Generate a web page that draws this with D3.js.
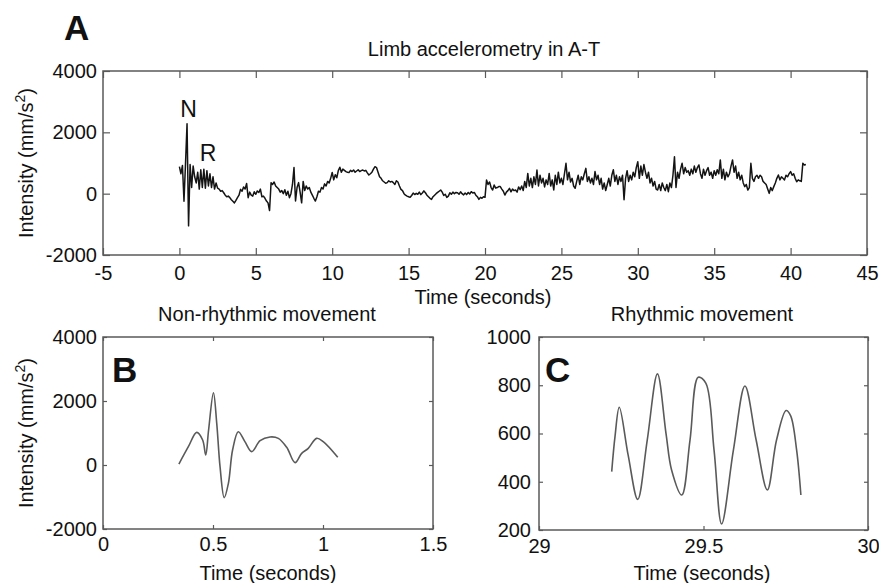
<!DOCTYPE html>
<html><head><meta charset="utf-8">
<script src="https://cdn.jsdelivr.net/npm/d3@7"></script>
<style>
body{margin:0;background:#fff}
svg{display:block;background:#fff}
text{font-family:"Liberation Sans",Arial,Helvetica,sans-serif}
</style>
</head><body>
<svg id="chart" width="879" height="583"></svg>
<script>
// ---------- DATA ----------
// Panel A: limb accelerometry trace, sampled every 0.1 s from t = 0
const aStart = 0;
const aStep = 0.1;
const aValues = [
  880, 650, 920, -250, 980, 2280, -1050, 950, 200, 900,
  550, 350, 700, 150, 780, 200, 800, 180, 750, 250,
  650, 200, 550, 150, 350, 180, 150, 80, 100, 30,
  -50, -100, -80, -130, -200, -250, -300, -220, -130, -50,
  140, 80, 220, 150, 330, -130, 50, -50, -80, 60,
  -20, 90, 40, 150, -100, -80, -150, -240, -300, -550,
  360, 300, 380, 250, 200, 150, 50, 100, 0, 130,
  -50, 80, -130, 0, 300, 850, -240, 200, 360, 50,
  -300, 400, 100, 250, 150, 200, 50, -50, -150, -240,
  -100, 80, 50, 200, 150, 320, 250, 400, 350, 500,
  690, 450, 620, 520, 750, 860, 700, 800, 760, 720,
  700, 690, 760, 720, 770, 700, 740, 780, 720, 750,
  770, 740, 760, 680, 610, 650, 700, 800, 880, 850,
  700, 555, 500, 420, 380, 340, 360, 420, 380, 400,
  360, 300, 420, 380, 250, 140, 100, 0, -50, -80,
  -100, -120, -60, 20, -30, 10, -20, 50, -30, 20,
  90, 30, -50, -100, -150, -185, -100, -50, 0, 40,
  80, 120, 50, -60, -20, -120, -80, 30, -20, 50,
  0, 40, 30, -20, 60, 0, -40, 20, -30, 40,
  -10, 65, 20, 40, -50, -100, -185, -120, -150, -100,
  -120, 445, 300, 380, 200, 120, 280, 180, 200, 230,
  230, 150, 80, -45, 50, 100, 175, 60, 150, 100,
  120, 50, 220, 130, 250, 100, 400, 200, 660, 250,
  500, 200, 550, 300, 770, 250, 600, 350, 500, 220,
  450, 300, 660, 250, 450, 120, 600, 300, 700, 350,
  500, 300, 650, 990, 450, 700, 380, 500, 250, 175,
  400, 600, 300, 550, 450, 650, 825, 400, 550, 350,
  500, 300, 720, 450, 600, 300, 500, 150, 350, 100,
  300, 500, 250, 600, 780, 400, 600, 300, 550, 400,
  600, -200, 500, 750, 400, 600, 450, 700, 550, 850,
  1040, 500, 900, 600, 950, 700, 500, 700, 350, 500,
  250, 400, 150, 120, 300, 100, 350, 200, 100, 300,
  65, 350, 200, 600, 1200, 200, 700, 500, 800, 990,
  650, 850, 700, 750, 600, 800, 650, 900, 700, 850,
  935, 650, 500, 800, 600, 750, 850, 600, 700, 500,
  750, 600, 780, 650, 1100, 500, 800, 450, 700, 550,
  650, 900, 1100, 700, 900, 500, 700, 450, 600, 350,
  230, 300, 120, 200, 990, 500, 400, 550, 600, 500,
  600, 550, 400, 350, 300, 150, 10, 200, 100, 230,
  350, 500, 610, 450, 550, 500, 450, 600, 550, 650,
  720, 600, 650, 500, 390, 450, 420, 400, 990, 935,
  950
];
const aXTicks = [-5, 0, 5, 10, 15, 20, 25, 30, 35, 40, 45];
const aYTicks = [-2000, 0, 2000, 4000];
const aAnnotations = [{label: "N", t: 0.6, v: 2510}, {label: "R", t: 1.87, v: 1066}];

// Panel B: non-rhythmic movement
const bTime   = [0.345, 0.388, 0.426, 0.453, 0.467, 0.480, 0.502, 0.517, 0.532, 0.551, 0.570, 0.589, 0.615, 0.645, 0.676, 0.714, 0.759, 0.797, 0.835, 0.873, 0.903, 0.933, 0.971, 1.001, 1.067];
const bValues = [30, 572, 1020, 781, 312, 1094, 2260, 1303, -53, -1021, -573, 469, 1041, 729, 417, 760, 875, 833, 552, 73, 365, 521, 833, 729, 240];
const bXTicks = [0, 0.5, 1, 1.5];
const bYTicks = [-2000, 0, 2000, 4000];

// Panel C: rhythmic movement
const cTime   = [29.221, 29.231, 29.244, 29.271, 29.300, 29.329, 29.360, 29.386, 29.403, 29.434, 29.459, 29.484, 29.507, 29.532, 29.555, 29.591, 29.626, 29.660, 29.694, 29.722, 29.751, 29.765, 29.783, 29.796];
const cValues = [442, 587, 709, 510, 327, 573, 847, 601, 449, 345, 573, 833, 809, 532, 225, 532, 797, 573, 366, 573, 695, 673, 532, 345];
const cXTicks = [29, 29.5, 30];
const cYTicks = [200, 400, 600, 800, 1000];

// ---------- DRAWING ----------
const svg = d3.select("#chart");
const FONT = 20;
const BOX = "#5a5a5a";
const TXT = "#111";

function panel(o) {
  const x = d3.scaleLinear().domain(o.xDomain).range([o.left, o.right]);
  const y = d3.scaleLinear().domain(o.yDomain).range([o.bottom, o.top]);
  const g = svg.append("g");
  const fmt = d => String(d);

  const styleAxis = sel => {
    sel.select(".domain").remove();
    sel.selectAll(".tick line").attr("stroke", BOX).attr("stroke-width", 1.2);
    sel.selectAll(".tick text").attr("fill", TXT).style("font-size", FONT + "px")
      .style("font-family", '"Liberation Sans",Arial,sans-serif');
  };
  g.append("g").attr("transform", `translate(0,${o.bottom})`)
    .call(d3.axisBottom(x).tickValues(o.xTicks).tickSize(-o.tick).tickPadding(o.xPad).tickFormat(fmt)).call(styleAxis);
  g.append("g").attr("transform", `translate(0,${o.top})`)
    .call(d3.axisTop(x).tickValues(o.xTicks).tickSize(-o.tick).tickFormat("")).call(styleAxis);
  g.append("g").attr("transform", `translate(${o.left},0)`)
    .call(d3.axisLeft(y).tickValues(o.yTicks).tickSize(-o.tick).tickPadding(o.yPad).tickFormat(fmt)).call(styleAxis);
  g.append("g").attr("transform", `translate(${o.right},0)`)
    .call(d3.axisRight(y).tickValues(o.yTicks).tickSize(-o.tick).tickFormat("")).call(styleAxis);

  g.append("rect").attr("x", o.left).attr("y", o.top)
    .attr("width", o.right - o.left).attr("height", o.bottom - o.top)
    .attr("fill", "none").attr("stroke", BOX).attr("stroke-width", 1.5);

  const line = d3.line().x(d => x(d.t)).y(d => y(d.v)).curve(o.curve);
  g.append("path").datum(o.data).attr("d", line)
    .attr("fill", "none").attr("stroke", o.color).attr("stroke-width", o.width)
    .attr("stroke-linejoin", "round");

  g.append("text").attr("x", o.titleX).attr("y", o.titleY).attr("text-anchor", "middle")
    .attr("fill", TXT).style("font-size", FONT + "px").text(o.title);
  g.append("text").attr("x", o.xLabelX).attr("y", o.xLabelY).attr("text-anchor", "middle")
    .attr("fill", TXT).style("font-size", FONT + "px").text("Time (seconds)");
  if (o.yLabel) {
    const yl = g.append("text").attr("transform", `translate(33,${(o.top + o.bottom) / 2}) rotate(-90)`)
      .attr("text-anchor", "middle").attr("fill", TXT).style("font-size", FONT + "px");
    yl.append("tspan").text("Intensity (mm/s");
    yl.append("tspan").attr("dy", -8).style("font-size", "14px").text("2");
    yl.append("tspan").attr("dy", 8).text(")");
  }
  g.append("text").attr("x", o.letterX).attr("y", o.letterY)
    .attr("fill", "#111").style("font-size", "35px").style("font-weight", "bold").text(o.letter);
  return {g, x, y};
}

const A = panel({
  left: 103, right: 867, top: 71, bottom: 255,
  xDomain: [-5, 45], yDomain: [-2000, 4000],
  xTicks: aXTicks, yTicks: aYTicks, tick: 7, xPad: 11, yPad: 6,
  data: aValues.map((v, i) => ({t: aStart + i * aStep, v})),
  curve: d3.curveLinear, color: "#141414", width: 1.5,
  title: "Limb accelerometry in A-T", titleX: 484, titleY: 56,
  xLabelX: 483, xLabelY: 304, yLabel: true,
  letter: "A", letterX: 64, letterY: 40
});
A.g.selectAll(".annot").data(aAnnotations).enter().append("text")
  .attr("class", "annot").attr("x", d => A.x(d.t)).attr("y", d => A.y(d.v))
  .attr("text-anchor", "middle").attr("fill", TXT).style("font-size", "23px").text(d => d.label);

panel({
  left: 103, right: 433, top: 337, bottom: 529,
  xDomain: [0, 1.5], yDomain: [-2000, 4000],
  xTicks: bXTicks, yTicks: bYTicks, tick: 4, xPad: 8, yPad: 6,
  data: bTime.map((t, i) => ({t, v: bValues[i]})),
  curve: d3.curveCatmullRom.alpha(0.5), color: "#5a5a5a", width: 1.6,
  title: "Non-rhythmic movement", titleX: 267, titleY: 321,
  xLabelX: 268, xLabelY: 580, yLabel: true,
  letter: "B", letterX: 112, letterY: 382
});

panel({
  left: 539, right: 868, top: 337, bottom: 530,
  xDomain: [29, 30], yDomain: [200, 1000],
  xTicks: cXTicks, yTicks: cYTicks, tick: 4, xPad: 9, yPad: 8,
  data: cTime.map((t, i) => ({t, v: cValues[i]})),
  curve: d3.curveCatmullRom.alpha(0.5), color: "#5a5a5a", width: 1.6,
  title: "Rhythmic movement", titleX: 702, titleY: 321,
  xLabelX: 702, xLabelY: 580, yLabel: false,
  letter: "C", letterX: 545, letterY: 382
});
</script>
</body></html>
